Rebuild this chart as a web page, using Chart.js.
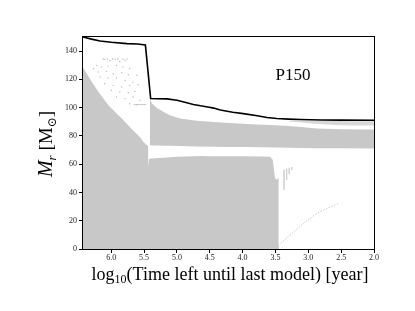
<!DOCTYPE html>
<html>
<head>
<meta charset="utf-8">
<script src="https://cdn.jsdelivr.net/npm/chart.js@4/dist/chart.umd.min.js"></script>
<style>html,body{margin:0;padding:0;background:#fff;}canvas{display:block;}</style>
</head>
<body>
<canvas id="c" width="415" height="311"></canvas>
<script>
// ---- axis ticks ----
const xTicks = [6.0, 5.5, 5.0, 4.5, 4.0, 3.5, 3.0, 2.5, 2.0];
const yTicks = [0, 20, 40, 60, 80, 100, 120, 140];

// ---- total mass (black line) ----
const massX = [6.43, 6.3, 6.17, 6.0, 5.76, 5.6, 5.48, 5.40, 5.3, 5.15, 5.0, 4.85, 4.75, 4.64, 4.51, 4.44, 4.34, 4.15, 3.99, 3.8, 3.63, 3.48, 3.3, 3.12, 2.8, 2.5, 2.0];
const massY = [150, 148.5, 147.2, 146.3, 145.3, 145.0, 144.3, 106.5, 106.3, 106.2, 105.2, 103.5, 102.3, 101.3, 100.3, 99.7, 98.3, 96.8, 95.8, 94.5, 93.0, 92.3, 91.9, 91.6, 91.3, 91.2, 91.1];

// ---- convective core (filled down to 0) ----
const coreX = [6.43, 6.3, 6.17, 6.04, 5.91, 5.78, 5.70, 5.55, 5.51, 5.44, 5.435, 5.425, 5.4, 5.2, 5.0, 4.64, 4.5, 4.0, 3.7, 3.58, 3.54, 3.51, 3.49, 3.45, 3.40, 3.39, 3.40, 3.43, 3.45];
const coreY = [128.5, 118.5, 109.5, 101.5, 95.5, 89.5, 85.5, 78.5, 75.5, 72.8, 58, 63.5, 64, 64.6, 65.2, 65.8, 65.7, 65.6, 65.4, 65.2, 63, 51, 49, 50.5, 49, 30, 10, 3, 0];

// ---- envelope convective band ----
const bandX = [5.41, 5.38, 5.3, 5.2, 5.1, 4.95, 4.7, 4.44, 4.2, 3.93, 3.7, 3.5, 3.3, 3.12, 2.87, 2.5, 2.0];
const bandTop = [106, 103, 99.5, 97, 94.5, 92.3, 90.8, 89.9, 89.2, 88.4, 88.0, 87.6, 87.0, 86.4, 85.2, 84.8, 84.5];
const bandBottom = [73.4, 73.3, 73.2, 73.1, 73.0, 72.8, 72.5, 72.3, 72.2, 72.1, 72.0, 71.8, 71.6, 71.4, 71.3, 71.2, 71.1];

// ---- thin outer sliver near the surface ----
const sliverX = [3.3, 3.1, 2.9, 2.6, 2.3, 2.0];
const sliverTop = [90.8, 90.7, 90.6, 90.5, 90.4, 90.4];
const sliverBottom = [90.3, 89.5, 88.7, 87.8, 87.4, 87.3];

// ---- streaks at the edge of the core ----
const streakX = [3.37, 3.33, 3.29, 3.25];
const streakTop = [56, 56.8, 57.4, 58];
const streakBottom = [42, 49, 53, 56];

// ---- faint diagonal shell ----
const diagX = [3.42, 3.3, 3.22, 3.05, 2.87, 2.7, 2.54];
const diagY = [4, 9, 12.2, 19, 25.2, 29, 32.3];

// ---- sparse dots in early envelope ----
const dotsX = [6.10, 6.02, 5.94, 5.87, 5.79, 6.22, 6.15, 6.05, 5.92, 5.82, 5.72, 6.27, 6.20, 6.07, 5.97, 5.84, 5.74, 5.61, 6.17, 6.05, 5.92, 5.79, 5.67, 6.10, 5.97, 5.84, 5.72, 5.59, 6.00, 5.87, 5.74, 5.64, 5.92, 5.79, 5.67, 5.56, 5.72, 5.61, 6.12, 6.06, 5.98, 5.90, 5.82, 5.76];
const dotsY = [134.2, 133.4, 134.2, 132.7, 133.4, 129.9, 128.7, 129.4, 129.9, 128.7, 127.6, 127.6, 125.2, 125.7, 124.0, 124.7, 123.3, 122.9, 121.7, 121.0, 121.0, 119.3, 118.1, 117.0, 115.8, 114.6, 115.8, 116.3, 112.3, 111.1, 110.6, 111.5, 107.6, 106.4, 107.6, 105.2, 102.8, 102.1, 134.4, 134.4, 134.4, 134.4, 134.4, 134.4];
const hlineX = [5.66, 5.47];
const hlineY = [102.2, 102.2];

const GRAY = '#c8c8c8';
const pts = (xs, ys) => xs.map((x, i) => ({x: x, y: ys[i]}));

function streakData() {
  const d = [];
  streakX.forEach((x, i) => {
    d.push({x: x, y: streakTop[i]});
    d.push({x: x, y: streakBottom[i]});
    d.push({x: x, y: null});
  });
  return d;
}

const SERIF = '"Liberation Serif", "DejaVu Serif", serif';

const framePlugin = {
  id: 'frame',
  beforeDraw(chart) {
    const ctx = chart.ctx;
    ctx.save();
    ctx.fillStyle = '#fff';
    ctx.fillRect(0, 0, chart.width, chart.height);
    ctx.restore();
  },
  afterDraw(chart) {
    const ctx = chart.ctx;
    const a = chart.chartArea;
    ctx.save();
    ctx.strokeStyle = '#000';
    ctx.lineWidth = 1;
    ctx.strokeRect(Math.round(a.left) - 0.5, Math.round(a.top) - 0.5, Math.round(a.right - a.left) + 1, Math.round(a.bottom - a.top) + 1);

    ctx.fillStyle = '#000';
    // P150 label
    ctx.font = '17px ' + SERIF;
    ctx.textAlign = 'center';
    ctx.textBaseline = 'alphabetic';
    ctx.fillText('P150', 293, 80);

    // x axis title with subscript
    const big = '18px ' + SERIF, small = '12px ' + SERIF;
    const p1 = 'log', p2 = '10', p3 = '(Time left until last model) [year]';
    ctx.font = big; const w1 = ctx.measureText(p1).width; const w3 = ctx.measureText(p3).width;
    ctx.font = small; const w2 = ctx.measureText(p2).width;
    const total = w1 + w2 + w3;
    let x0 = 230 - total / 2;
    const base = 280;
    ctx.textAlign = 'left';
    ctx.font = big; ctx.fillText(p1, x0, base);
    ctx.font = small; ctx.fillText(p2, x0 + w1, base + 3);
    ctx.font = big; ctx.fillText(p3, x0 + w1 + w2, base);

    // y axis title rotated
    ctx.save();
    ctx.translate(52, 144);
    ctx.rotate(-Math.PI / 2);
    const fM = 'italic 20px ' + SERIF, fr = 'italic 13px ' + SERIF, fN = '19px ' + SERIF, fs = '12px "DejaVu Serif", serif';
    const parts = [
      {t: 'M', f: fM, dy: 0},
      {t: 'r', f: fr, dy: 4},
      {t: ' [M', f: fN, dy: 0},
      {t: '\u2299', f: fs, dy: 4},
      {t: ']', f: fN, dy: 0}
    ];
    let tw = 0;
    parts.forEach(p => { ctx.font = p.f; p.w = ctx.measureText(p.t).width; tw += p.w; });
    let cx = -tw / 2;
    parts.forEach(p => { ctx.font = p.f; ctx.fillText(p.t, cx, p.dy); cx += p.w; });
    ctx.restore();
    ctx.restore();
  }
};

new Chart(document.getElementById('c'), {
  type: 'line',
  data: {
    datasets: [
      {label: 'mass', data: pts(massX, massY), borderColor: '#000', borderWidth: 1.6, pointRadius: 0, fill: false, order: 0},
      {label: 'bandBottom', data: pts(bandX, bandBottom), borderWidth: 0, borderColor: 'rgba(0,0,0,0)', pointRadius: 0, fill: false, order: 5},
      {label: 'bandTop', data: pts(bandX, bandTop), borderWidth: 0, borderColor: 'rgba(0,0,0,0)', backgroundColor: GRAY, pointRadius: 0, fill: '-1', order: 4},
      {label: 'sliverBottom', data: pts(sliverX, sliverBottom), borderWidth: 0, borderColor: 'rgba(0,0,0,0)', pointRadius: 0, fill: false, order: 5},
      {label: 'sliverTop', data: pts(sliverX, sliverTop), borderWidth: 0, borderColor: 'rgba(0,0,0,0)', backgroundColor: '#d8d8d8', pointRadius: 0, fill: '-1', order: 4},
      {label: 'core', data: pts(coreX, coreY), borderWidth: 0, borderColor: 'rgba(0,0,0,0)', backgroundColor: GRAY, pointRadius: 0, fill: 'origin', order: 4},
      {label: 'streaks', data: streakData(), borderColor: '#d0d0d0', borderWidth: 0.8, pointRadius: 0, fill: false, spanGaps: false, order: 3},
      {label: 'diag', data: pts(diagX, diagY), borderColor: GRAY, borderWidth: 1, borderDash: [1.5, 1.5], pointRadius: 0, fill: false, order: 3},
      {label: 'hline', data: pts(hlineX, hlineY), borderColor: '#bdbdbd', borderWidth: 0.8, pointRadius: 0, fill: false, order: 3},
      {label: 'dots', data: pts(dotsX, dotsY), showLine: false, pointRadius: 0.7, pointBorderWidth: 0, pointBackgroundColor: '#b8b8b8', order: 3}
    ]
  },
  options: {
    responsive: false,
    animation: false,
    devicePixelRatio: 1,
    layout: {padding: {left: 0, top: 37, right: 41, bottom: 0}},
    elements: {line: {tension: 0}},
    plugins: {legend: {display: false}, tooltip: {enabled: false}},
    scales: {
      x: {
        type: 'linear', reverse: true, min: 2.0, max: 6.43,
        afterBuildTicks: s => { s.ticks = xTicks.map(v => ({value: v})); },
        afterFit: s => { s.height = 62; },
        ticks: {font: {family: SERIF, size: 8}, color: '#222', padding: 0, maxRotation: 0, autoSkip: false, callback: v => Number(v).toFixed(1)},
        grid: {drawOnChartArea: false, drawTicks: true, tickLength: 4, color: '#000', lineWidth: 1},
        border: {display: false}
      },
      y: {
        type: 'linear', min: 0, max: 150,
        afterBuildTicks: s => { s.ticks = yTicks.map(v => ({value: v})); },
        afterFit: s => { s.width = 83; },
        ticks: {font: {family: SERIF, size: 8}, color: '#222', padding: 2, autoSkip: false, callback: v => String(v)},
        grid: {drawOnChartArea: false, drawTicks: true, tickLength: 4, color: '#000', lineWidth: 1},
        border: {display: false}
      }
    }
  },
  plugins: [framePlugin]
});
</script>
</body>
</html>
